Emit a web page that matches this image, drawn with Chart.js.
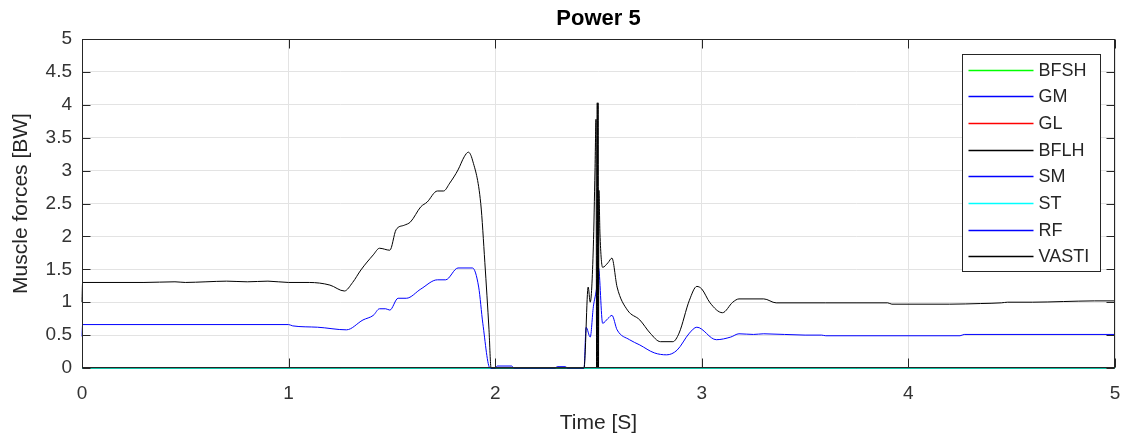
<!DOCTYPE html>
<html>
<head>
<meta charset="utf-8">
<script src="https://cdn.jsdelivr.net/npm/chart.js@4"></script>
<style>
    html, body { margin: 0; padding: 0; background: #fff; }
    #wrap { width: 1127px; height: 442px; position: relative; }
</style>
</head>
<body>
<div id="wrap"><canvas id="powerChart"></canvas></div>
<script>
// Power 5 - muscle forces over time

const muscleNames = ['BFSH', 'GM', 'GL', 'BFLH', 'SM', 'ST', 'RF', 'VASTI'];
const muscleColors = ['#00ff00', '#0000ff', '#ff0000', '#000000', '#0000ff', '#00ffff', '#0000ff', '#000000'];

// muscles that stay at zero the whole trial
const zeroTime = [0, 5];
const zeroForce = [0, 0];

// VASTI (black curve)
const vastiTime = [0, 0.003, 0.3, 0.45, 0.5, 0.6, 0.7, 0.8, 0.9, 1.0, 1.1, 1.2, 1.27, 1.31,
    1.35, 1.41, 1.44, 1.49, 1.52, 1.56, 1.59, 1.64, 1.67, 1.72, 1.75, 1.78, 1.82, 1.85, 1.87,
    1.89, 1.93, 1.95, 1.97, 1.98, 2.43, 2.45, 2.46, 2.475, 2.483, 2.488, 2.491, 2.494, 2.496,
    2.498, 2.5, 2.502, 2.507, 2.52, 2.546, 2.565, 2.59, 2.64, 2.7, 2.75, 2.8, 2.86, 2.89, 2.94,
    2.976, 3.0, 3.04, 3.1, 3.15, 3.18, 3.3, 3.36, 3.6, 3.9, 3.92, 4.2, 4.35, 4.45, 4.48, 4.6,
    4.75, 4.9, 5.0];
const vastiForce = [1.0, 1.3, 1.3, 1.31, 1.3, 1.31, 1.32, 1.31, 1.32, 1.3, 1.3, 1.26, 1.17, 1.3,
    1.49, 1.72, 1.82, 1.79, 2.1, 2.17, 2.22, 2.45, 2.52, 2.69, 2.69, 2.81, 3.01, 3.21, 3.28,
    3.16, 2.5, 1.6, 0.58, 0, 0, 1.23, 1.0, 1.84, 3.0, 3.78, 0, 4.03, 0, 4.03, 0, 2.7, 2.05, 1.53,
    1.6, 1.67, 1.23, 0.88, 0.73, 0.53, 0.4, 0.4, 0.53, 1.03,
    1.24, 1.2, 0.99, 0.84, 1.0, 1.05, 1.05, 0.99, 0.99, 0.99, 0.97, 0.97, 0.98, 0.99, 1.0, 1.0,
    1.01, 1.02, 1.02];

// RF (blue curve)
const rfTime = [0, 0.003, 1.0, 1.02, 1.14, 1.28, 1.36, 1.41, 1.44, 1.47, 1.49, 1.53, 1.57, 1.64,
    1.72, 1.76, 1.82, 1.89, 1.92, 1.94, 1.975, 2.0, 2.01, 2.08, 2.09, 2.29, 2.3, 2.34, 2.35,
    2.43, 2.44, 2.46, 2.475, 2.49, 2.5, 2.52, 2.545, 2.565, 2.59, 2.65, 2.7, 2.77, 2.83, 2.88,
    2.94, 2.976, 3.07, 3.14, 3.18, 3.25, 3.3, 3.5, 3.58, 3.6, 4.25, 4.27, 5.0];
const rfForce = [0.48, 0.66, 0.66, 0.64, 0.62, 0.58, 0.73, 0.8, 0.9, 0.9, 0.88, 1.06, 1.06, 1.2,
    1.34, 1.34, 1.52, 1.52, 1.23, 0.68, 0, 0, 0.03, 0.03, 0, 0, 0.02, 0.02, 0,
    0, 0.62, 0.47, 0.93, 1.2, 1.52, 0.68, 0.75, 0.8, 0.58, 0.43, 0.35, 0.23, 0.2, 0.27,
    0.53, 0.62, 0.43, 0.47, 0.52, 0.51, 0.52, 0.5, 0.5, 0.49, 0.49, 0.51, 0.51];

const xTickLabels = ['0', '1', '2', '3', '4', '5'];
const yTickLabels = ['0', '0.5', '1', '1.5', '2', '2.5', '3', '3.5', '4', '4.5', '5'];

const FONT = "'Liberation Sans', Arial, Helvetica, sans-serif";
const AXIS_COLOR = '#262626';

function toPoints(times, values) {
    return times.map((t, i) => ({ x: t, y: values[i] }));
}

const seriesData = {
    VASTI: toPoints(vastiTime, vastiForce),
    RF: toPoints(rfTime, rfForce)
};

// draw order: curves on top, cyan next, the rest under
const drawOrder = { VASTI: 0, RF: 1, ST: 2 };

const datasets = muscleNames.map((name, i) => ({
    label: name,
    data: seriesData[name] || toPoints(zeroTime, zeroForce),
    borderColor: muscleColors[i],
    backgroundColor: muscleColors[i],
    borderWidth: 1,
    pointRadius: 0,
    cubicInterpolationMode: 'monotone',
    fill: false,
    clip: 3,
    order: drawOrder[name] !== undefined ? drawOrder[name] : 3 + i
}));

// MATLAB style frame: box, inward ticks, title over axes, legend inside
const matlabFrame = {
    id: 'matlabFrame',
    afterDatasetsDraw(chart) {
        const { ctx, chartArea, scales } = chart;
        const l = Math.round(chartArea.left) + 0.5;
        const r = Math.round(chartArea.right) - 0.5;
        const t = Math.round(chartArea.top) + 0.5;
        const b = Math.round(chartArea.bottom) - 0.5;
        ctx.save();
        ctx.strokeStyle = AXIS_COLOR;
        ctx.lineWidth = 1;
        ctx.strokeRect(l, t, r - l, b - t);
        ctx.beginPath();
        xTickLabels.forEach((lab, i) => {
            const px = Math.round(scales.x.getPixelForValue(i)) + 0.5;
            ctx.moveTo(px, b); ctx.lineTo(px, b - 9);
            ctx.moveTo(px, t); ctx.lineTo(px, t + 9);
        });
        yTickLabels.forEach((lab, i) => {
            const py = Math.round(scales.y.getPixelForValue(i * 0.5)) + 0.5;
            ctx.moveTo(l, py); ctx.lineTo(l + 8, py);
            ctx.moveTo(r, py); ctx.lineTo(r - 8, py);
        });
        ctx.stroke();
        ctx.restore();
    },
    afterDraw(chart) {
        const { ctx, chartArea } = chart;
        ctx.save();
        // title
        ctx.fillStyle = '#000';
        ctx.font = 'bold 22px ' + FONT;
        ctx.textAlign = 'center';
        ctx.textBaseline = 'middle';
        ctx.fillText('Power 5', (chartArea.left + chartArea.right) / 2, 19);

        // legend
        const boxW = 138, boxH = 217;
        const bx = Math.round(chartArea.right) - 15 - boxW + 0.5;
        const by = Math.round(chartArea.top) + 15 + 0.5;
        ctx.fillStyle = '#fff';
        ctx.fillRect(bx, by, boxW, boxH);
        ctx.strokeStyle = AXIS_COLOR;
        ctx.lineWidth = 1;
        ctx.strokeRect(bx, by, boxW, boxH);
        ctx.font = '18px ' + FONT;
        ctx.textAlign = 'left';
        chart.data.datasets.forEach((ds, i) => {
            const y = Math.round(by + 15 + i * 26.7) + 0.5;
            ctx.strokeStyle = ds.borderColor;
            ctx.lineWidth = 1.5;
            ctx.beginPath();
            ctx.moveTo(bx + 6, y);
            ctx.lineTo(bx + 71, y);
            ctx.stroke();
            ctx.fillStyle = '#262626';
            ctx.fillText(ds.label, bx + 76, y + 1);
        });
        ctx.restore();
    }
};

document.addEventListener('DOMContentLoaded', () => {
    const ctx = document.getElementById('powerChart');
    new Chart(ctx, {
        type: 'line',
        data: { datasets: datasets },
        plugins: [matlabFrame],
        options: {
            responsive: true,
            maintainAspectRatio: false,
            animation: false,
            layout: {
                padding: { top: 39, right: 12, bottom: 0, left: 0 }
            },
            plugins: {
                legend: { display: false },
                title: { display: false },
                tooltip: { enabled: false }
            },
            scales: {
                x: {
                    type: 'linear',
                    min: 0,
                    max: 5,
                    afterFit: (scale) => {
                        scale.height = 74;
                        scale.paddingLeft = 0;
                        scale.paddingRight = 0;
                    },
                    ticks: {
                        stepSize: 1,
                        padding: 14,
                        maxRotation: 0,
                        color: '#333',
                        font: { family: FONT, size: 19 },
                        callback: (value) => xTickLabels[Math.round(value)]
                    },
                    grid: {
                        color: '#e3e3e3',
                        drawTicks: false
                    },
                    border: { display: false },
                    title: {
                        display: true,
                        text: 'Time [S]',
                        color: '#262626',
                        font: { family: FONT, size: 21 },
                        padding: { top: 0, bottom: 6 }
                    }
                },
                y: {
                    min: 0,
                    max: 5,
                    afterFit: (scale) => {
                        scale.width = 82;
                        scale.paddingTop = 0;
                        scale.paddingBottom = 0;
                    },
                    ticks: {
                        stepSize: 0.5,
                        padding: 10,
                        color: '#333',
                        font: { family: FONT, size: 19 },
                        callback: (value) => yTickLabels[Math.round(value * 2)]
                    },
                    grid: {
                        color: '#e3e3e3',
                        drawTicks: false
                    },
                    border: { display: false },
                    title: {
                        display: true,
                        text: 'Muscle forces [BW]',
                        color: '#262626',
                        font: { family: FONT, size: 21 },
                        padding: { top: 9, bottom: 0 }
                    }
                }
            }
        }
    });
});
</script>
</body>
</html>
